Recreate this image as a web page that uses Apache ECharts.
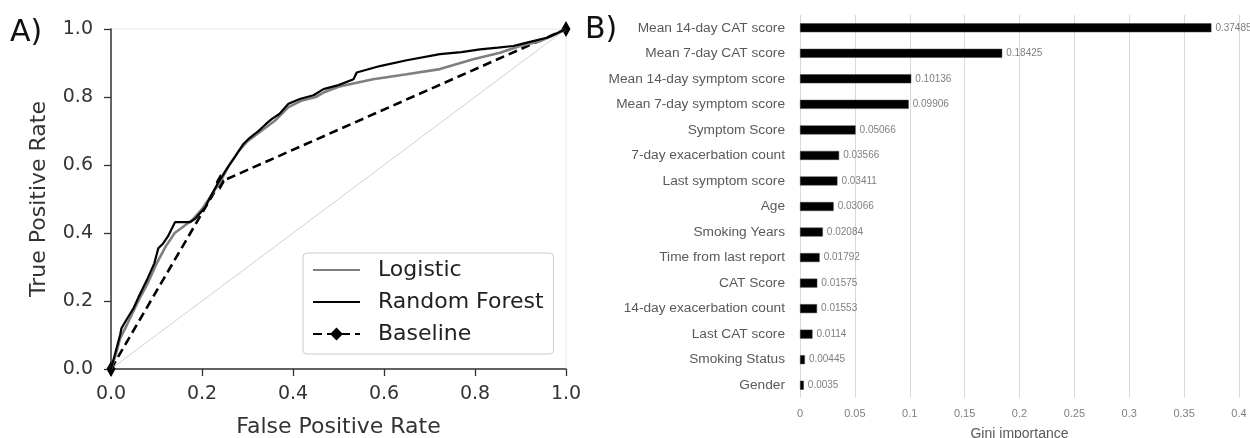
<!DOCTYPE html>
<html><head><meta charset="utf-8">
<script src="https://cdn.jsdelivr.net/npm/echarts@6/dist/echarts.min.js"></script>
<style>html,body{margin:0;padding:0;background:#fff}#c{width:1250px;height:438px}</style>
</head><body><div id="c"></div>
<script>
// ROC curve data (false positive rate, true positive rate)
const rfFpr = [0,0.01,0.02,0.023,0.034,0.05,0.06,0.08,0.095,0.104,0.115,0.125,0.141,0.174,0.185,0.207,0.22,0.236,0.255,0.273,0.291,0.305,0.324,0.34,0.353,0.37,0.39,0.415,0.445,0.467,0.5,0.533,0.54,0.591,0.65,0.723,0.77,0.811,0.85,0.884,0.914,0.96,1.0];
const rfTpr = [0,0.05,0.1,0.12,0.145,0.18,0.21,0.265,0.31,0.355,0.37,0.39,0.432,0.432,0.442,0.476,0.51,0.549,0.59,0.625,0.662,0.68,0.7,0.72,0.735,0.75,0.78,0.794,0.805,0.823,0.835,0.852,0.872,0.891,0.908,0.926,0.932,0.94,0.945,0.95,0.96,0.975,1.0];
const logFpr = [0,0.01,0.02,0.035,0.06,0.08,0.1,0.12,0.14,0.16,0.18,0.2,0.22,0.24,0.26,0.28,0.3,0.33,0.36,0.39,0.42,0.45,0.467,0.5,0.54,0.576,0.65,0.723,0.796,0.855,0.899,0.941,0.97,1.0];
const logTpr = [0,0.04,0.09,0.13,0.2,0.25,0.31,0.36,0.4,0.42,0.44,0.47,0.51,0.55,0.6,0.64,0.67,0.7,0.73,0.77,0.79,0.8,0.813,0.83,0.842,0.852,0.867,0.882,0.911,0.93,0.95,0.963,0.98,1.0];
const baseFpr = [0,0.24,1.0];
const baseTpr = [0,0.55,1.0];
const chanceFpr = [0,1];
const chanceTpr = [0,1];

// Feature importance data
const features = ["Mean 14-day CAT score","Mean 7-day CAT score","Mean 14-day symptom score","Mean 7-day symptom score","Symptom Score","7-day exacerbation count","Last symptom score","Age","Smoking Years","Time from last report","CAT Score","14-day exacerbation count","Last CAT score","Smoking Status","Gender"];
const gini = [0.37485,0.18425,0.10136,0.09906,0.05066,0.03566,0.03411,0.03066,0.02084,0.01792,0.01575,0.01553,0.0114,0.00445,0.0035];

const zip = (a,b) => a.map((v,i)=>[v,b[i]]);
const chart = echarts.init(document.getElementById('c'));
const F = 'DejaVu Sans';
chart.setOption({
  animation:false,
  backgroundColor:'#fff',
  graphic:[
    {type:'text', left:10, top:18, style:{text:'A)', font:'30px "DejaVu Sans"', fill:'#111'}},
    {type:'text', left:585, top:15, style:{text:'B)', font:'30px "DejaVu Sans"', fill:'#111'}}
  ],
  legend:{
    data:[
      {name:'Logistic', itemStyle:{opacity:0}},
      {name:'Random Forest', itemStyle:{opacity:0}},
      {name:'Baseline'}
    ],
    orient:'vertical', left:303, top:253,
    itemWidth:47, itemHeight:16, itemGap:10,
    padding:[6,10,9,9],
    backgroundColor:'#fff', borderColor:'#cccccc', borderWidth:1, borderRadius:4,
    textStyle:{fontFamily:F, fontSize:22, color:'#222', padding:[0,0,0,13]}
  },
  grid:[
    {left:111, right:684, top:29, bottom:69, containLabel:false, outerBoundsMode:'none',
     show:true, borderColor:'#e6e6e6', borderWidth:1},
    {left:800, right:11, top:15, bottom:40, containLabel:false, outerBoundsMode:'none'}
  ],
  xAxis:[
    {type:'value', gridIndex:0, min:0, max:1, interval:0.2,
     name:'False Positive Rate', nameLocation:'middle', nameGap:47,
     nameTextStyle:{fontFamily:F, fontSize:22, color:'#333'},
     axisLine:{show:true, lineStyle:{color:'#333', width:1.5}},
     axisTick:{show:true, inside:false, length:7, lineStyle:{color:'#333', width:1.3}},
     axisLabel:{fontFamily:F, fontSize:19, color:'#333', margin:16, formatter:v=>v.toFixed(1)},
     splitLine:{show:false}},
    {type:'value', gridIndex:1, min:0, max:0.4, interval:0.05,
     name:'Gini importance', nameLocation:'middle', nameGap:29,
     nameTextStyle:{fontFamily:'Liberation Sans', fontSize:14, color:'#595959'},
     axisLine:{show:false}, axisTick:{show:false},
     axisLabel:{fontFamily:'Liberation Sans', fontSize:11, color:'#7f7f7f', margin:10},
     splitLine:{show:true, lineStyle:{color:'#d9d9d9', width:1}}}
  ],
  yAxis:[
    {type:'value', gridIndex:0, min:0, max:1, interval:0.2,
     name:'True Positive Rate', nameLocation:'middle', nameGap:61,
     nameTextStyle:{fontFamily:F, fontSize:22, color:'#333'},
     axisLine:{show:true, lineStyle:{color:'#333', width:1.5}},
     axisTick:{show:true, inside:false, length:7, lineStyle:{color:'#333', width:1.3}},
     axisLabel:{fontFamily:F, fontSize:19, color:'#333', margin:18, formatter:v=>v.toFixed(1)},
     splitLine:{show:false}},
    {type:'category', gridIndex:1, data:features, inverse:true,
     axisLine:{show:false}, axisTick:{show:false},
     axisLabel:{fontFamily:'Liberation Sans', fontSize:13.7, color:'#595959', margin:15}}
  ],
  series:[
    {name:'chance', type:'line', xAxisIndex:0, yAxisIndex:0, data:zip(chanceFpr,chanceTpr),
     symbol:'none', lineStyle:{color:'#d0d0d0', width:1}, silent:true, z:1},
    {name:'Baseline', type:'line', xAxisIndex:0, yAxisIndex:0, data:zip(baseFpr,baseTpr),
     symbol:'diamond', symbolSize:[9,16], itemStyle:{color:'#000'},
     lineStyle:{color:'#000', width:2.6, type:[9,5]}, z:2},
    {name:'Logistic', type:'line', xAxisIndex:0, yAxisIndex:0, data:zip(logFpr,logTpr),
     symbol:'none', lineStyle:{color:'#7f7f7f', width:2.6}, itemStyle:{color:'#7f7f7f'}, z:3},
    {name:'Random Forest', type:'line', xAxisIndex:0, yAxisIndex:0, data:zip(rfFpr,rfTpr),
     symbol:'none', lineStyle:{color:'#000', width:2.2}, itemStyle:{color:'#000'}, z:4},
    {name:'gini', type:'bar', xAxisIndex:1, yAxisIndex:1, data:gini, barWidth:9,
     itemStyle:{color:'#000', borderColor:'#444', borderWidth:0.5},
     label:{show:true, position:'right', distance:4, fontFamily:'Liberation Sans', fontSize:10, color:'#7f7f7f'}}
  ]
});
</script></body></html>
